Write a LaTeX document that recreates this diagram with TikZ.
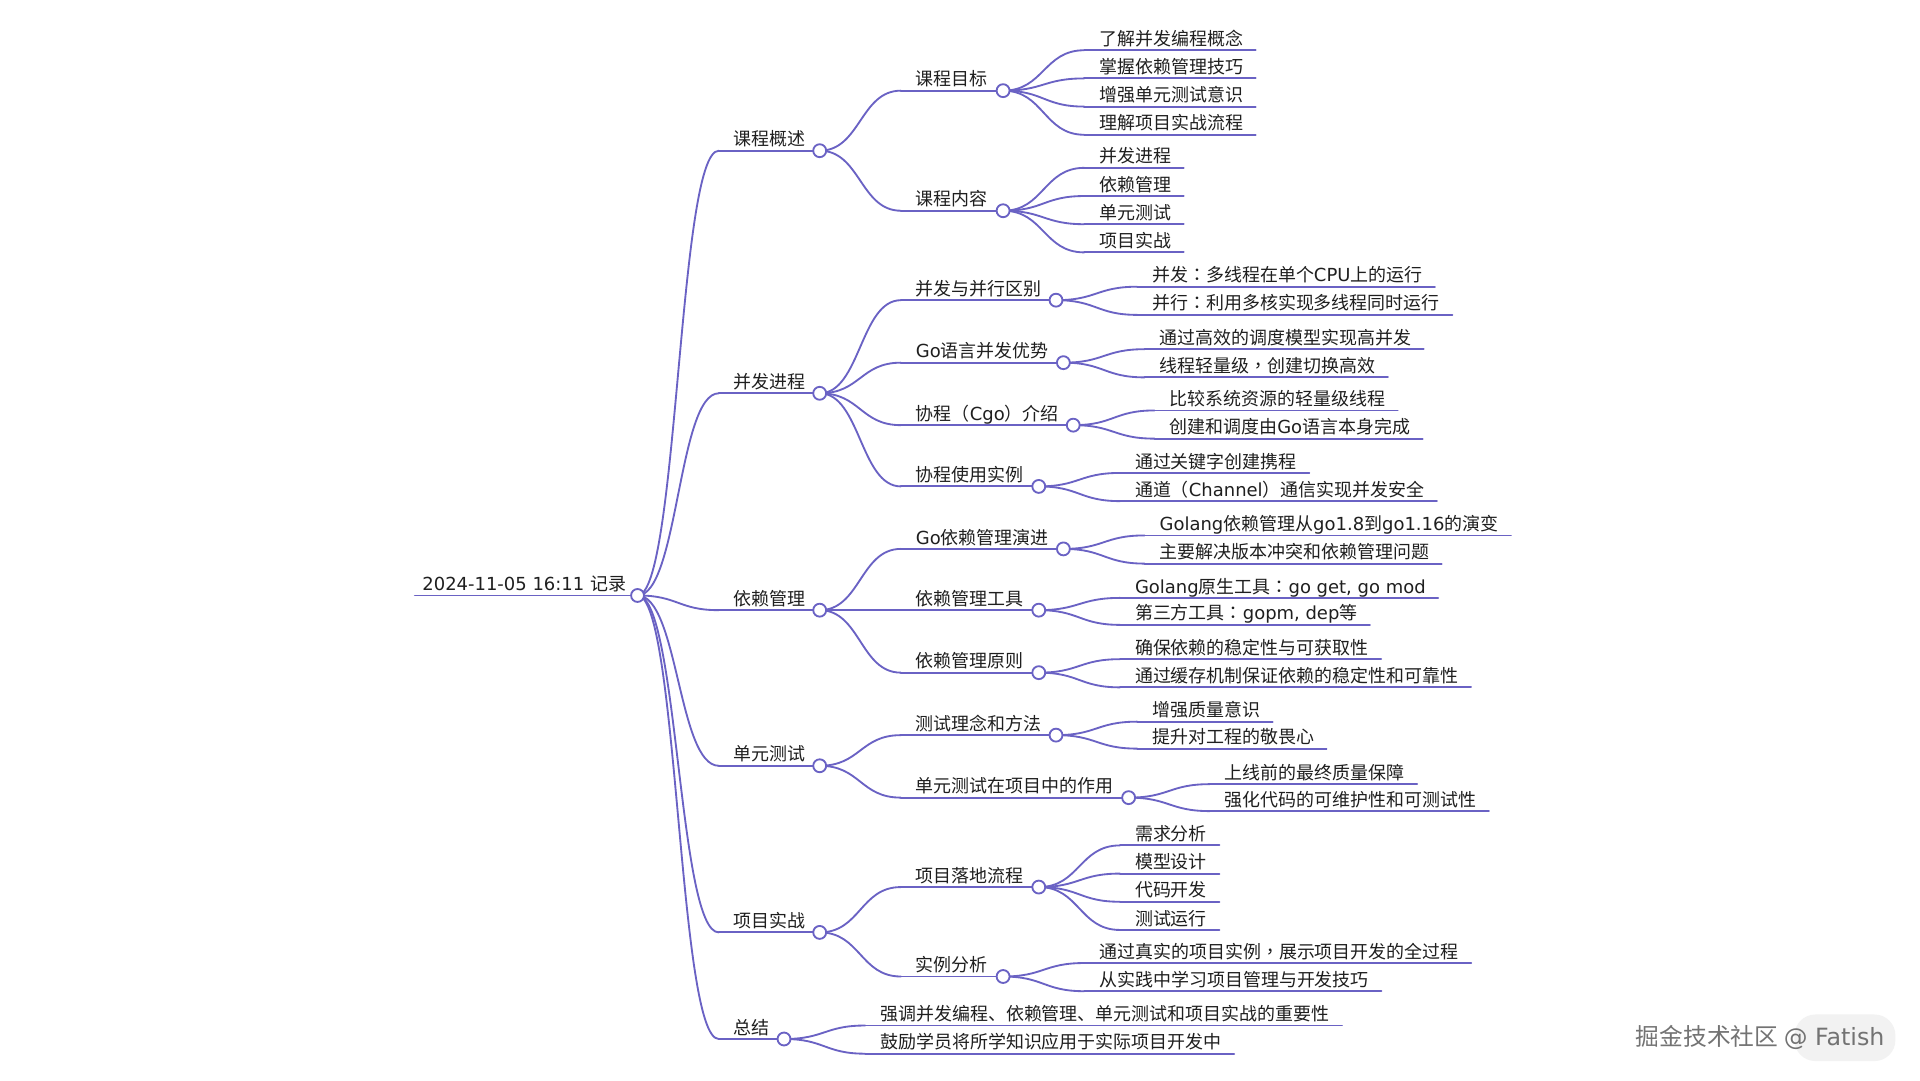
\documentclass[tikz,border=0pt]{standalone}
\usepackage{fontspec}
\setmainfont{Noto Sans CJK SC}
\newfontfamily\lat{DejaVu Sans}
\newfontfamily\tc{Noto Sans CJK TC}
\newcommand\qcolon{{\tc ：}}
\newcommand\qcomma{{\tc ，}}
\usetikzlibrary{calc}
\pgfdeclarelayer{bg}
\pgfdeclarelayer{back}
\pgfsetlayers{back,bg,main}
\definecolor{mm}{RGB}{106,98,196}
\tikzset{
  mmline/.style={draw=mm, line width=1.5pt, line cap=round},
  mmdot/.style={circle, draw=mm, fill=white, line width=1.5pt, minimum size=10.5pt, inner sep=0pt},
  mmtext/.style={anchor=base west, inner sep=0pt, text=black!88},
}
\newcommand\mmlink[2]{%
  \begin{pgfonlayer}{bg}
  \draw[mmline] let \p1=(#1.center), \p2=(#2) in
    (\p1) .. controls ({(\x1+\x2)/2},\y1) and ({(\x1+\x2)/2},\y2) .. (\p2);
  \end{pgfonlayer}}
\newcommand\mminner[6]{%
  \coordinate (#2-s) at (#3,#4);
  \node[mmtext] (#2) at ({#3+12},{#4-4}) {#6};
  \node[mmdot] (#2-c) at (#5,#4) {};
  \begin{pgfonlayer}{bg}\draw[mmline] (#2-s) -- (#2-c.center);\end{pgfonlayer}
  \mmlink{#1-c}{#2-s}}
\newcommand\mmleaf[5]{%
  \coordinate (#2-s) at (#3,#4);
  \node[mmtext] (#2) at ({#3+12},{#4-4}) {#5};
  \coordinate (#2-e) at (#2-s -| #2.east);
  \begin{pgfonlayer}{bg}\draw[mmline] (#2-s) -- ([xshift=10pt]#2-e);\end{pgfonlayer}
  \mmlink{#1-c}{#2-s}}
\begin{document}
\begin{tikzpicture}[x=1pt,y=-0.9955pt,font=\fontsize{14.6}{17}\selectfont]
\begin{pgfonlayer}{back}
\fill[white] (0,0) rectangle (1560,881.5);
\end{pgfonlayer}
\useasboundingbox (0,0) rectangle (1560,881.5);
% root
\coordinate (R-s) at (337,486);
\node[mmtext] (R) at (343,482) {{\lat 2024-11-05 16:11 }记录};
\node[mmdot] (R-c) at (518,486) {};
\begin{pgfonlayer}{bg}\draw[mmline] (R-s) -- (R-c.center);\end{pgfonlayer}
% level 1
\mminner{R}{A}{584}{123}{666}{课程概述}
\mminner{R}{B}{584}{321}{666}{并发进程}
\mminner{R}{C}{584}{498}{666}{依赖管理}
\mminner{R}{D}{584}{625}{666}{单元测试}
\mminner{R}{E}{584}{761}{666}{项目实战}
\mminner{R}{F}{584}{848}{637}{总结}
% level 2
\mminner{A}{A1}{732}{74}{815}{课程目标}
\mminner{A}{A2}{732}{172}{815}{课程内容}
\mminner{B}{B1}{732}{245}{858}{并发与并行区别}
\mminner{B}{B2}{732}{296}{864}{{\lat Go}语言并发优势}
\mminner{B}{B3}{732}{347}{872}{协程（{\lat Cgo}）介绍}
\mminner{B}{B4}{732}{397}{844}{协程使用实例}
\mminner{C}{C1}{732}{448}{864}{{\lat Go}依赖管理演进}
\mminner{C}{C2}{732}{498}{844}{依赖管理工具}
\mminner{C}{C3}{732}{549}{844}{依赖管理原则}
\mminner{D}{D1}{732}{600}{858}{测试理念和方法}
\mminner{D}{D2}{732}{651}{917}{单元测试在项目中的作用}
\mminner{E}{E1}{732}{724}{844}{项目落地流程}
\mminner{E}{E2}{732}{797}{815}{实例分析}
\mmleaf{F}{F1}{703}{837}{强调并发编程、依赖管理、单元测试和项目实战的重要性}
\mmleaf{F}{F2}{703}{860}{鼓励学员将所学知识应用于实际项目开发中}
% leaves
\mmleaf{A1}{A1a}{881}{41}{了解并发编程概念}
\mmleaf{A1}{A1b}{881}{64}{掌握依赖管理技巧}
\mmleaf{A1}{A1c}{881}{87}{增强单元测试意识}
\mmleaf{A1}{A1d}{881}{110}{理解项目实战流程}
\mmleaf{A2}{A2a}{881}{137}{并发进程}
\mmleaf{A2}{A2b}{881}{160}{依赖管理}
\mmleaf{A2}{A2c}{881}{183}{单元测试}
\mmleaf{A2}{A2d}{881}{206}{项目实战}
\mmleaf{B1}{B1a}{924}{234}{并发\qcolon 多线程在单个{\lat CPU}上的运行}
\mmleaf{B1}{B1b}{924}{257}{并行\qcolon 利用多核实现多线程同时运行}
\mmleaf{B2}{B2a}{930}{285}{通过高效的调度模型实现高并发}
\mmleaf{B2}{B2b}{930}{308}{线程轻量级\qcomma 创建切换高效}
\mmleaf{B3}{B3a}{938}{335}{比较系统资源的轻量级线程}
\mmleaf{B3}{B3b}{938}{358}{创建和调度由{\lat Go}语言本身完成}
\mmleaf{B4}{B4a}{910}{386}{通过关键字创建携程}
\mmleaf{B4}{B4b}{910}{409}{通道（{\lat Channel}）通信实现并发安全}
\mmleaf{C1}{C1a}{930}{437}{{\lat Golang}依赖管理从{\lat go1.8}到{\lat go1.16}的演变}
\mmleaf{C1}{C1b}{930}{460}{主要解决版本冲突和依赖管理问题}
\mmleaf{C2}{C2a}{910}{488}{{\lat Golang}原生工具\qcolon{\lat go get, go mod}}
\mmleaf{C2}{C2b}{910}{510}{第三方工具\qcolon{\lat gopm, dep}等}
\mmleaf{C3}{C3a}{910}{538}{确保依赖的稳定性与可获取性}
\mmleaf{C3}{C3b}{910}{561}{通过缓存机制保证依赖的稳定性和可靠性}
\mmleaf{D1}{D1a}{924}{589}{增强质量意识}
\mmleaf{D1}{D1b}{924}{611}{提升对工程的敬畏心}
\mmleaf{D2}{D2a}{983}{640}{上线前的最终质量保障}
\mmleaf{D2}{D2b}{983}{662}{强化代码的可维护性和可测试性}
\mmleaf{E1}{E1a}{910}{690}{需求分析}
\mmleaf{E1}{E1b}{910}{713}{模型设计}
\mmleaf{E1}{E1c}{910}{736}{代码开发}
\mmleaf{E1}{E1d}{910}{759}{测试运行}
\mmleaf{E2}{E2a}{881}{786}{通过真实的项目实例\qcomma 展示项目开发的全过程}
\mmleaf{E2}{E2b}{881}{809}{从实践中学习项目管理与开发技巧}
% watermark
\fill[black!5, rounded corners=17pt] (1458,828) rectangle (1540,866);
\node[anchor=base west, inner sep=0pt, text=black!55, font=\fontsize{19.3}{23}\selectfont] (wm1) at (1329,853) {掘金技术社区 {\lat @ Fatish}};
\end{tikzpicture}
\end{document}
